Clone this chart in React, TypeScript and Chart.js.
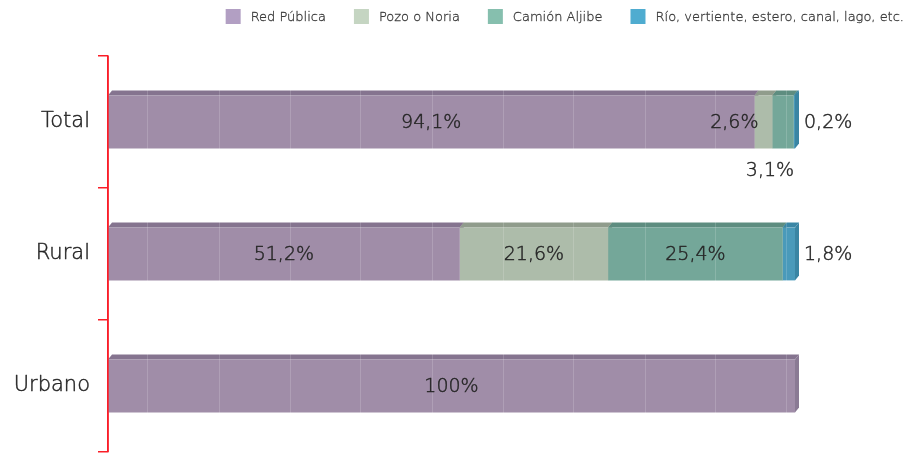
import { useEffect, useRef } from 'react';
import { Chart, registerables } from 'chart.js';

Chart.register(...registerables);

// ---- data ----
const categories = ['Total', 'Rural', 'Urbano'];
const seriesNames = ['Red Pública', 'Pozo o Noria', 'Camión Aljibe', 'Río, vertiente, estero, canal, lago, etc.'];
const redPublica = [94.1, 51.2, 100];
const pozoNoria = [2.6, 21.6, 0];
const camionAljibe = [3.1, 25.4, 0];
const rioVertiente = [0.2, 1.8, 0];
const xGridValues = [5.8, 16.2, 26.5, 36.8, 47.2, 57.5, 67.8, 78.2, 88.5, 98.8];

// ---- styles ----
const FONT = '"DejaVu Sans", sans-serif';
const WEIGHT = '200';
const TEXT_COLOR = '#262626';
const AXIS_RED = 'rgb(250,30,40)';
const frontColors = ['#a08da8', '#adbcaa', '#74a799', '#4a9aba'];
const topColors = ['#85748f', '#909c8c', '#5e8d80', '#3b87a6'];
const sideColors = ['#8a7a94', '#97a393', '#629385', '#3a85a3'];
const legendColors = ['#b29fc3', '#c5d5c2', '#86bfae', '#4facd0'];
const smallPlacement = ['center', 'left', 'below', 'right'];
const DX = 4;
const DY = 5;

const fmt = (v: number) => String(v).replace('.', ',') + '%';

function boldText(ctx: CanvasRenderingContext2D, text: string, x: number, y: number, color: string, lw: number) {
  ctx.fillStyle = color;
  ctx.strokeStyle = color;
  ctx.lineWidth = lw;
  ctx.lineJoin = 'round';
  ctx.fillText(text, x, y);
  ctx.strokeText(text, x, y);
}

const depthPlugin = {
  id: 'depth3d',
  beforeDatasetsDraw(chart: any) {
    const ctx = chart.ctx;
    ctx.save();
    const metas = chart.data.datasets.map((_: any, i: number) => chart.getDatasetMeta(i));
    metas.forEach((meta: any, i: number) => {
      meta.data.forEach((bar: any, j: number) => {
        const v = chart.data.datasets[i].data[j];
        if (!v) return;
        const { x, y, height } = bar.getProps(['x', 'y', 'height'], true);
        const top = y - height / 2;
        const bottom = y + height / 2;
        ctx.fillStyle = sideColors[i];
        ctx.beginPath();
        ctx.moveTo(x, top);
        ctx.lineTo(x + DX, top - DY);
        ctx.lineTo(x + DX, bottom - DY);
        ctx.lineTo(x, bottom);
        ctx.closePath();
        ctx.fill();
      });
    });
    metas.forEach((meta: any, i: number) => {
      meta.data.forEach((bar: any, j: number) => {
        const v = chart.data.datasets[i].data[j];
        if (!v) return;
        const { x, y, base, height } = bar.getProps(['x', 'y', 'base', 'height'], true);
        const top = y - height / 2;
        ctx.fillStyle = topColors[i];
        ctx.beginPath();
        ctx.moveTo(base, top);
        ctx.lineTo(base + DX, top - DY);
        ctx.lineTo(x + DX, top - DY);
        ctx.lineTo(x, top);
        ctx.closePath();
        ctx.fill();
      });
    });
    ctx.restore();
  },
  afterDatasetsDraw(chart: any) {
    // keep the red category-axis line visible over the bars
    const ctx = chart.ctx;
    const { left, top, bottom } = chart.chartArea;
    ctx.save();
    ctx.strokeStyle = AXIS_RED;
    ctx.lineWidth = 1.5;
    ctx.beginPath();
    ctx.moveTo(left, top);
    ctx.lineTo(left, bottom);
    ctx.stroke();
    ctx.restore();
  },
};

const labelPlugin = {
  id: 'valueLabels',
  afterDraw(chart: any) {
    const ctx = chart.ctx;
    ctx.save();
    ctx.textBaseline = 'middle';
    const yScale = chart.scales.y;
    ctx.font = `${WEIGHT} 21px ${FONT}`;
    ctx.textAlign = 'right';
    categories.forEach((c, i) => {
      const py = yScale.getPixelForTick(i);
      boldText(ctx, c, yScale.right - 18, py, TEXT_COLOR, 0.45);
    });
    ctx.font = `${WEIGHT} 19px ${FONT}`;
    chart.data.datasets.forEach((ds: any, i: number) => {
      const meta = chart.getDatasetMeta(i);
      meta.data.forEach((bar: any, j: number) => {
        const v = ds.data[j];
        if (!v) return;
        const { x, y, base, height } = bar.getProps(['x', 'y', 'base', 'height'], true);
        const text = fmt(v);
        const tw = ctx.measureText(text).width;
        const w = x - base;
        let tx = (x + base) / 2;
        let ty = y + 1;
        let align: CanvasTextAlign = 'center';
        if (w < tw + 6) {
          const p = smallPlacement[i];
          if (p === 'left') {
            tx = base + 4;
            align = 'right';
          } else if (p === 'below') {
            tx = (x + base) / 2 - 13;
            ty = y + height / 2 + 23;
          } else if (p === 'right') {
            tx = x + 9;
            align = 'left';
          }
        }
        ctx.textAlign = align;
        boldText(ctx, text, tx, ty, TEXT_COLOR, 0.45);
      });
    });
    ctx.restore();
  },
};

const legendPlugin = {
  id: 'customLegend',
  afterDraw(chart: any) {
    const ctx = chart.ctx;
    ctx.save();
    ctx.font = `${WEIGHT} 13px ${FONT}`;
    ctx.textBaseline = 'middle';
    ctx.textAlign = 'left';
    const box = 15;
    const gapBoxText = 10;
    const gapItems = 28;
    const rightEdge = 904;
    const widths = seriesNames.map((n) => box + gapBoxText + ctx.measureText(n).width);
    const total = widths.reduce((a, b) => a + b, 0) + gapItems * (seriesNames.length - 1);
    let cx = rightEdge - total;
    const cy = 16.5;
    seriesNames.forEach((n, i) => {
      ctx.fillStyle = legendColors[i];
      ctx.fillRect(cx, cy - box / 2, box, box);
      boldText(ctx, n, cx + box + gapBoxText, cy + 1, '#3a3a3a', 0.3);
      cx += widths[i] + gapItems;
    });
    ctx.restore();
  },
};

export default function App() {
  const ref = useRef<HTMLCanvasElement>(null);
  useEffect(() => {
    document.body.style.margin = '0';
    const series = [redPublica, pozoNoria, camionAljibe, rioVertiente];
    const chart = new Chart(ref.current as HTMLCanvasElement, {
      type: 'bar',
      data: {
        labels: categories,
        datasets: series.map((d, i) => ({
          label: seriesNames[i],
          data: d,
          backgroundColor: frontColors[i],
          borderWidth: 0,
          barPercentage: 0.4,
          categoryPercentage: 1,
        })),
      },
      options: {
        indexAxis: 'y',
        responsive: false,
        animation: false,
        layout: { padding: { top: 56, bottom: 1, left: 0, right: 0 } },
        plugins: { legend: { display: false }, tooltip: { enabled: false } },
        scales: {
          x: {
            stacked: true,
            min: 0,
            max: 100,
            display: true,
            ticks: { display: false },
            border: { display: false },
            grid: { drawTicks: false, color: 'rgba(255,255,255,0.16)', lineWidth: 1, z: 1 },
            afterBuildTicks: (s: any) => {
              s.ticks = xGridValues.map((v) => ({ value: v }));
            },
            afterFit: (s: any) => {
              s.height = 0;
              s.paddingLeft = 0;
              s.paddingRight = 0;
            },
          },
          y: {
            stacked: true,
            position: 'left',
            grid: {
              display: true,
              drawOnChartArea: false,
              drawTicks: true,
              tickLength: 10,
              color: AXIS_RED,
              lineWidth: 1.5,
              offset: true,
            },
            border: { display: true, color: AXIS_RED, width: 1.5 },
            ticks: { padding: 8, color: 'rgba(0,0,0,0)', font: { family: FONT, size: 21, weight: WEIGHT } },
            afterFit: (s: any) => {
              s.width = 108;
              s.paddingTop = 0;
              s.paddingBottom = 0;
            },
          },
          y2: {
            type: 'linear',
            position: 'right',
            display: true,
            grid: { display: false },
            ticks: { display: false },
            border: { display: false },
            afterFit: (s: any) => {
              s.width = 111;
              s.paddingTop = 0;
              s.paddingBottom = 0;
            },
          },
        },
      } as any,
      plugins: [depthPlugin, labelPlugin, legendPlugin],
    });
    return () => chart.destroy();
  }, []);
  return <canvas ref={ref} width={906} height={453} style={{ display: 'block' }} />;
}
